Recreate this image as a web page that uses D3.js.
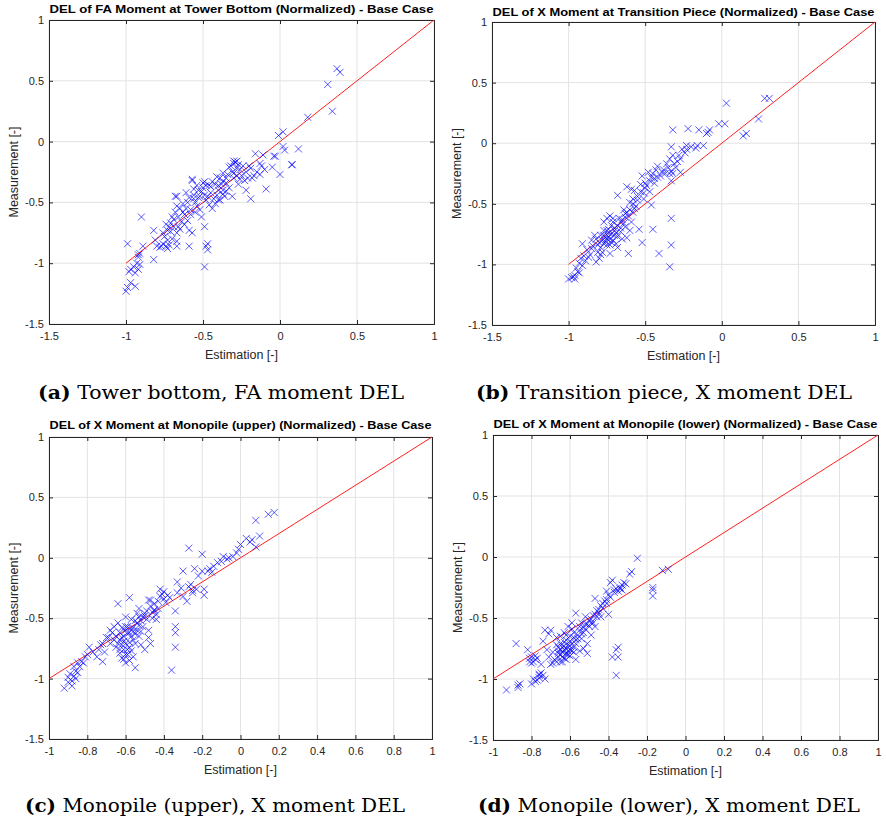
<!DOCTYPE html>
<html>
<head>
<meta charset="utf-8">
<script src="https://cdn.jsdelivr.net/npm/d3@7"></script>
<style>
    body { margin: 0; background: #fff; }
    svg { display: block; }
</style>
</head>
<body>
<script>
const pointsA = [
    [0.37, 0.60], [0.39, 0.57], [0.31, 0.47], [0.34, 0.25], [0.18, 0.20],
    [0.02, 0.08], [-0.01, 0.05], [0.02, -0.04], [0.03, -0.07], [0.12, -0.06],
    [0.08, -0.19], [0.075, -0.19], [0, -0.27], [-0.03, -0.12], [-0.04, -0.12],
    [-0.09, -0.39], [-0.16, -0.10], [-0.19, -0.47], [-0.11, -0.11], [-0.05, -0.21],
    [-0.13, -0.18], [-0.13, -0.27], [-0.22, -0.40], [-0.23, -0.32], [-0.26, -0.23],
    [-0.28, -0.16], [-0.30, -0.18], [-0.33, -0.21], [-0.30, -0.26], [-0.37, -0.26],
    [-0.41, -0.29], [-0.35, -0.34], [-0.31, -0.45], [-0.37, -0.43], [-0.39, -0.48],
    [-0.42, -0.51], [-0.45, -0.37], [-0.48, -0.36], [-0.49, -0.44], [-0.52, -0.45],
    [-0.54, -0.53], [-0.51, -0.62], [-0.49, -0.70], [-0.57, -0.32], [-0.56, -0.47],
    [-0.58, -0.56], [-0.57, -0.75], [-0.59, -0.73], [-0.59, -0.86], [-0.63, -0.51],
    [-0.61, -0.42], [-0.67, -0.45], [-0.67, -0.53], [-0.68, -0.58], [-0.69, -0.64],
    [-0.71, -0.67], [-0.73, -0.73], [-0.76, -0.75], [-0.73, -0.81], [-0.74, -0.86],
    [-0.80, -0.86], [-0.81, -0.81], [-0.82, -0.73], [-0.82, -0.97], [-0.90, -0.62],
    [-0.89, -0.86], [-0.92, -0.93], [-0.67, -0.75], [-0.67, -0.82], [-0.67, -0.86],
    [-0.68, -0.45], [-0.48, -0.86], [-0.47, -0.84], [-0.47, -0.89], [-0.49, -1.03],
    [-0.99, -0.84], [-0.97, -1.05], [-0.95, -1.03], [-0.93, -1.00], [-0.92, -1.05],
    [-0.91, -1.01], [-0.94, -1.08], [-0.99, -1.20], [-1.00, -1.23], [-0.97, -1.16],
    [-0.94, -1.19], [-0.98, -1.07], [-0.92, -0.95], [-0.91, -0.92], [-0.57, -0.31],
    [-0.70, -0.62], [-0.72, -0.70], [-0.65, -0.55], [-0.62, -0.60], [-0.60, -0.50],
    [-0.55, -0.50], [-0.53, -0.40], [-0.50, -0.38], [-0.47, -0.45], [-0.45, -0.42],
    [-0.44, -0.55], [-0.40, -0.40], [-0.38, -0.35], [-0.36, -0.45], [-0.35, -0.30],
    [-0.33, -0.38], [-0.30, -0.30], [-0.28, -0.22], [-0.27, -0.35], [-0.25, -0.28],
    [-0.22, -0.25], [-0.20, -0.20], [-0.18, -0.30], [-0.29, -0.17], [-0.27, -0.19],
    [-0.31, -0.25], [-0.42, -0.35], [-0.58, -0.60], [-0.64, -0.66], [-0.66, -0.70],
    [-0.75, -0.78], [-0.77, -0.86], [-0.73, -0.88], [-0.60, -0.65], [-0.52, -0.56],
    [-0.46, -0.36], [-0.49, -0.33], [-0.40, -0.48], [-0.37, -0.40], [-0.56, -0.44],
    [-0.74, -0.68], [-0.71, -0.74], [-0.69, -0.70], [-0.66, -0.62], [-0.63, -0.58],
    [-0.61, -0.55], [-0.59, -0.46], [-0.56, -0.39], [-0.54, -0.36], [-0.51, -0.41],
    [-0.48, -0.48], [-0.46, -0.52], [-0.43, -0.47], [-0.41, -0.44], [-0.39, -0.30],
    [-0.37, -0.33], [-0.34, -0.27], [-0.32, -0.20], [-0.30, -0.16], [-0.28, -0.28],
    [-0.26, -0.31], [-0.24, -0.20], [-0.21, -0.30], [-0.19, -0.22], [-0.17, -0.28],
    [-0.15, -0.25], [-0.12, -0.20], [-0.10, -0.23], [-0.55, -0.58], [-0.62, -0.68],
    [-0.70, -0.80], [-0.76, -0.84], [-0.78, -0.87], [-0.72, -0.85], [-0.65, -0.72],
    [-0.44, -0.33], [-0.40, -0.36], [-0.35, -0.41], [-0.50, -0.34], [-0.53, -0.46]
];

const pointsB = [
    [0.28, 0.37], [0.31, 0.37], [0.24, 0.20], [0.14, 0.06], [0.16, 0.08],
    [0.03, 0.33], [-0.02, 0.16], [0.02, 0.16], [-0.09, 0.09], [-0.10, 0.08],
    [-0.08, 0.11], [-0.15, 0.11], [-0.22, 0.12], [-0.32, 0.11], [-0.12, -0.02],
    [-0.16, -0.02], [-0.17, -0.04], [-0.23, -0.02], [-0.23, -0.05], [-0.24, -0.08],
    [-0.33, -0.03], [-0.32, -0.10], [-0.29, -0.15], [-0.27, -0.13], [-0.34, -0.13],
    [-0.33, -0.23], [-0.32, -0.25], [-0.27, -0.24], [-0.34, -0.25], [-0.33, -0.31],
    [-0.37, -0.25], [-0.42, -0.19], [-0.42, -0.28], [-0.45, -0.25], [-0.47, -0.31],
    [-0.48, -0.24], [-0.49, -0.35], [-0.51, -0.41], [-0.53, -0.34], [-0.52, -0.27],
    [-0.51, -0.46], [-0.46, -0.51], [-0.45, -0.71], [-0.33, -0.62], [-0.33, -0.84],
    [-0.34, -1.02], [-0.41, -0.91], [-0.52, -0.82], [-0.61, -0.91], [-0.54, -0.71],
    [-0.68, -0.43], [-0.62, -0.36], [-0.59, -0.38], [-0.57, -0.39], [-0.58, -0.46],
    [-0.60, -0.49], [-0.62, -0.57], [-0.63, -0.61], [-0.61, -0.60], [-0.58, -0.57],
    [-0.59, -0.65], [-0.66, -0.65], [-0.68, -0.68], [-0.71, -0.62], [-0.73, -0.60],
    [-0.75, -0.62], [-0.77, -0.65], [-0.74, -0.71], [-0.72, -0.75], [-0.70, -0.76],
    [-0.75, -0.79], [-0.77, -0.83], [-0.79, -0.86], [-0.78, -0.90], [-0.82, -0.79],
    [-0.83, -0.76], [-0.85, -0.87], [-0.88, -0.88], [-0.91, -0.83], [-0.92, -0.95],
    [-0.91, -1.01], [-0.95, -1.03], [-0.96, -1.09], [-0.98, -1.11], [-1.00, -1.12],
    [-0.96, -1.12], [-0.93, -0.99], [-0.80, -0.95], [-0.82, -0.98], [-0.73, -0.91],
    [-0.73, -0.84], [-0.65, -0.79], [-0.66, -0.73], [-0.63, -0.69], [-0.60, -0.72],
    [-0.68, -0.86], [-0.62, -0.78], [-0.70, -0.70], [-0.72, -0.68], [-0.74, -0.77],
    [-0.76, -0.81], [-0.71, -0.80], [-0.69, -0.74], [-0.67, -0.62], [-0.64, -0.55],
    [-0.56, -0.52], [-0.55, -0.44], [-0.50, -0.37], [-0.44, -0.33], [-0.40, -0.27],
    [-0.38, -0.22], [-0.36, -0.17], [-0.30, -0.20], [-0.44, -0.29], [-0.47, -0.40],
    [-0.79, -0.76], [-0.77, -0.72], [-0.81, -0.84], [-0.86, -0.92], [-0.89, -0.97],
    [-0.94, -1.06], [-0.85, -0.80], [-0.69, -0.83], [-0.64, -0.66], [-0.57, -0.54],
    [-0.78, -0.80], [-0.76, -0.78], [-0.75, -0.84], [-0.73, -0.79], [-0.72, -0.82],
    [-0.74, -0.74], [-0.77, -0.76], [-0.80, -0.82], [-0.81, -0.90], [-0.84, -0.85],
    [-0.87, -0.94], [-0.70, -0.72], [-0.68, -0.77], [-0.66, -0.70], [-0.65, -0.63],
    [-0.63, -0.58], [-0.60, -0.55], [-0.58, -0.50], [-0.55, -0.47], [-0.53, -0.40],
    [-0.50, -0.33], [-0.46, -0.28], [-0.43, -0.22], [-0.39, -0.24], [-0.35, -0.20],
    [-0.31, -0.17], [-0.28, -0.10], [-0.26, -0.05], [-0.20, -0.03], [-0.79, -0.92],
    [-0.75, -0.72], [-0.71, -0.65], [-0.93, -1.07], [-0.97, -1.10], [-0.90, -0.93]
];

const pointsC = [
    [0.176, 0.375], [0.145, 0.36], [0.08, 0.31], [0.10, 0.18], [0.08, 0.09],
    [0.06, 0.15], [0.03, 0.16], [0, 0.11], [-0.01, 0.07], [-0.04, 0.01],
    [-0.06, 0], [-0.09, 0.01], [-0.12, -0.04], [-0.14, -0.07], [-0.17, -0.11],
    [-0.20, 0.03], [-0.20, -0.11], [-0.24, -0.09], [-0.27, 0.08], [-0.30, -0.11],
    [-0.19, -0.26], [-0.19, -0.31], [-0.23, -0.26], [-0.25, -0.29], [-0.27, -0.24],
    [-0.28, -0.36], [-0.33, -0.20], [-0.33, -0.29], [-0.34, -0.44], [-0.34, -0.57],
    [-0.34, -0.62], [-0.34, -0.74], [-0.36, -0.93], [-0.38, -0.31], [-0.40, -0.28],
    [-0.42, -0.26], [-0.39, -0.37], [-0.43, -0.42], [-0.45, -0.44], [-0.47, -0.35],
    [-0.46, -0.50], [-0.48, -0.60], [-0.47, -0.71], [-0.50, -0.76], [-0.50, -0.46],
    [-0.53, -0.42], [-0.54, -0.46], [-0.58, -0.33], [-0.60, -0.49], [-0.59, -0.57],
    [-0.57, -0.65], [-0.55, -0.71], [-0.55, -0.91], [-0.56, -0.82], [-0.54, -0.60],
    [-0.53, -0.65], [-0.60, -0.71], [-0.61, -0.76], [-0.62, -0.83], [-0.63, -0.79],
    [-0.60, -0.87], [-0.64, -0.38], [-0.64, -0.54], [-0.65, -0.65], [-0.67, -0.62],
    [-0.68, -0.71], [-0.72, -0.71], [-0.72, -0.86], [-0.74, -0.76], [-0.75, -0.82],
    [-0.79, -0.74], [-0.81, -0.82], [-0.83, -0.86], [-0.84, -0.90], [-0.86, -0.94],
    [-0.87, -0.98], [-0.88, -1.02], [-0.90, -1.03], [-0.88, -1.06], [-0.92, -1.08],
    [-0.90, -0.99], [-0.85, -0.95], [-0.87, -0.90], [-0.82, -0.87], [-0.68, -0.60],
    [-0.66, -0.57], [-0.48, -0.35], [-0.45, -0.43], [-0.44, -0.51], [-0.61, -0.65],
    [-0.59, -0.76], [-0.57, -0.51], [-0.54, -0.54], [-0.51, -0.57], [-0.49, -0.51],
    [-0.60, -0.57], [-0.58, -0.62], [-0.56, -0.68], [-0.58, -0.70], [-0.61, -0.69],
    [-0.62, -0.72], [-0.59, -0.80], [-0.57, -0.77], [-0.55, -0.63], [-0.52, -0.52],
    [-0.50, -0.48], [-0.46, -0.45], [-0.43, -0.36], [-0.41, -0.30], [-0.37, -0.33],
    [-0.31, -0.25], [-0.26, -0.22], [-0.22, -0.15], [-0.16, -0.09], [-0.10, -0.03],
    [-0.07, -0.01], [-0.02, 0.04], [0.05, 0.13], [-0.63, -0.62], [-0.63, -0.68],
    [-0.65, -0.74], [-0.56, -0.58], [-0.53, -0.49], [-0.70, -0.66], [-0.77, -0.78],
    [-0.62, -0.66], [-0.60, -0.60], [-0.59, -0.63], [-0.58, -0.74], [-0.57, -0.58],
    [-0.56, -0.61], [-0.60, -0.80], [-0.61, -0.84], [-0.63, -0.76], [-0.64, -0.71],
    [-0.55, -0.52], [-0.53, -0.56], [-0.52, -0.61], [-0.51, -0.49], [-0.49, -0.44],
    [-0.47, -0.40], [-0.45, -0.38], [-0.42, -0.32], [-0.40, -0.34], [-0.44, -0.47],
    [-0.48, -0.66], [-0.52, -0.72], [-0.58, -0.85], [-0.62, -0.58], [-0.66, -0.68],
    [-0.69, -0.66], [-0.71, -0.78], [-0.73, -0.72], [-0.80, -0.80], [-0.85, -0.87],
    [-0.89, -0.96], [-0.86, -1.00], [-0.30, -0.32], [-0.25, -0.27], [-0.15, -0.12]
];

const pointsD = [
    [-0.25, -0.01], [-0.28, -0.12], [-0.29, -0.14], [-0.32, -0.21], [-0.33, -0.23],
    [-0.34, -0.25], [-0.37, -0.27], [-0.39, -0.21], [-0.41, -0.28], [-0.40, -0.47],
    [-0.43, -0.38], [-0.45, -0.43], [-0.47, -0.34], [-0.46, -0.49], [-0.48, -0.54],
    [-0.50, -0.57], [-0.51, -0.71], [-0.51, -0.79], [-0.52, -0.49], [-0.54, -0.54],
    [-0.55, -0.60], [-0.57, -0.84], [-0.58, -0.62], [-0.59, -0.71], [-0.60, -0.76],
    [-0.59, -0.54], [-0.61, -0.57], [-0.62, -0.68], [-0.63, -0.73], [-0.64, -0.82],
    [-0.65, -0.76], [-0.65, -0.71], [-0.66, -0.79], [-0.67, -0.86], [-0.69, -0.87],
    [-0.69, -0.78], [-0.70, -0.60], [-0.73, -0.60], [-0.74, -0.69], [-0.72, -0.76],
    [-0.75, -0.88], [-0.76, -0.97], [-0.77, -1.01], [-0.79, -1.00], [-0.80, -1.04],
    [-0.73, -1.00], [-0.76, -0.96], [-0.78, -0.84], [-0.80, -0.82], [-0.80, -0.87],
    [-0.82, -0.76], [-0.88, -0.71], [-0.87, -1.05], [-0.87, -1.07], [-0.93, -1.09],
    [-0.36, -0.76], [-0.35, -0.82], [-0.38, -0.82], [-0.35, -0.74], [-0.36, -0.97],
    [-0.17, -0.25], [-0.17, -0.27], [-0.17, -0.32], [-0.12, -0.11], [-0.09, -0.10],
    [-0.38, -0.19], [-0.41, -0.35], [-0.54, -0.67], [-0.49, -0.64], [-0.57, -0.46],
    [-0.65, -0.65], [-0.63, -0.62], [-0.60, -0.65], [-0.57, -0.68], [-0.53, -0.62],
    [-0.47, -0.57], [-0.44, -0.49], [-0.66, -0.82], [-0.63, -0.83], [-0.65, -0.86],
    [-0.61, -0.80], [-0.71, -0.82], [-0.62, -0.75], [-0.61, -0.72], [-0.64, -0.78],
    [-0.63, -0.70], [-0.60, -0.69], [-0.58, -0.66], [-0.56, -0.64], [-0.55, -0.57],
    [-0.52, -0.55], [-0.50, -0.52], [-0.48, -0.48], [-0.46, -0.44], [-0.44, -0.40],
    [-0.42, -0.36], [-0.40, -0.31], [-0.36, -0.26], [-0.35, -0.28], [-0.62, -0.79],
    [-0.66, -0.74], [-0.59, -0.77], [-0.77, -0.83], [-0.81, -0.86], [-0.75, -0.95],
    [-0.78, -1.02], [-0.86, -1.04], [-0.53, -0.58], [-0.49, -0.54], [-0.67, -0.72],
    [-0.63, -0.76], [-0.62, -0.80], [-0.61, -0.77], [-0.60, -0.73], [-0.64, -0.74],
    [-0.65, -0.80], [-0.66, -0.77], [-0.62, -0.84], [-0.60, -0.81], [-0.58, -0.74],
    [-0.57, -0.71], [-0.56, -0.67], [-0.54, -0.63], [-0.52, -0.59], [-0.51, -0.55],
    [-0.49, -0.51], [-0.47, -0.47], [-0.45, -0.46], [-0.43, -0.42], [-0.41, -0.38],
    [-0.39, -0.33], [-0.37, -0.29], [-0.34, -0.26], [-0.33, -0.27], [-0.31, -0.22],
    [-0.68, -0.84], [-0.70, -0.88], [-0.64, -0.86], [-0.58, -0.78], [-0.55, -0.77],
    [-0.53, -0.75], [-0.79, -0.86], [-0.78, -0.81], [-0.81, -0.83], [-0.76, -0.99],
    [-0.74, -0.97], [-0.71, -0.63], [-0.67, -0.66], [-0.62, -0.64], [-0.59, -0.59]
];

const titles = [
    "DEL of FA Moment at Tower Bottom (Normalized) - Base Case",
    "DEL of X Moment at Transition Piece (Normalized) - Base Case",
    "DEL of X Moment at Monopile (upper) (Normalized) - Base Case",
    "DEL of X Moment at Monopile (lower) (Normalized) - Base Case"
];
const captionLetters = ["(a)", "(b)", "(c)", "(d)"];
const captionTexts = [
    "Tower bottom, FA moment DEL",
    "Transition piece, X moment DEL",
    "Monopile (upper), X moment DEL",
    "Monopile (lower), X moment DEL"
];
const xTicksWide = [-1.5, -1, -0.5, 0, 0.5, 1];
const xTicksFine = [-1, -0.8, -0.6, -0.4, -0.2, 0, 0.2, 0.4, 0.6, 0.8, 1];
const yTicks = [-1.5, -1, -0.5, 0, 0.5, 1];
const refLine = [[-1, -1], [1, 1]];
const xLabel = "Estimation [-]";
const yLabel = "Measurement [-]";

const W = 886, H = 823;
const sansFont = "'Liberation Sans', Arial, sans-serif";

// plot boxes (left, right, top, bottom) + caption placement
const panels = [
    { pts: pointsA, xTicks: xTicksWide, l: 49, r: 434, t: 20, b: 324, titleY: 13, capX: 221, capY: 399, capW: 366 },
    { pts: pointsB, xTicks: xTicksWide, l: 492, r: 875, t: 22, b: 325, titleY: 16, capX: 664, capY: 399, capW: 376 },
    { pts: pointsC, xTicks: xTicksFine, l: 49, r: 432, t: 437, b: 739, titleY: 429, capX: 215, capY: 812, capW: 380 },
    { pts: pointsD, xTicks: xTicksFine, l: 493, r: 878, t: 435, b: 740, titleY: 428, capX: 669, capY: 812, capW: 382 }
];

const fmt = d => String(+d.toFixed(1));

const svg = d3.select("body").append("svg")
    .attr("width", W)
    .attr("height", H);

panels.forEach((p, i) => {
    const x = d3.scaleLinear()
        .domain(d3.extent(p.xTicks))
        .range([p.l, p.r]);
    const y = d3.scaleLinear()
        .domain(d3.extent(yTicks))
        .range([p.b, p.t]);

    const g = svg.append("g");

    // grid
    g.append("g").selectAll("line")
        .data(p.xTicks)
        .join("line")
        .attr("x1", d => x(d)).attr("x2", d => x(d))
        .attr("y1", p.t).attr("y2", p.b)
        .attr("stroke", "#e3e3e3");
    g.append("g").selectAll("line")
        .data(yTicks)
        .join("line")
        .attr("x1", p.l).attr("x2", p.r)
        .attr("y1", d => y(d)).attr("y2", d => y(d))
        .attr("stroke", "#e3e3e3");

    // axes, MATLAB style: ticks pointing inwards, box on
    const bottom = g.append("g")
        .attr("transform", "translate(0," + p.b + ")")
        .call(d3.axisBottom(x).tickValues(p.xTicks).tickFormat(fmt).tickSize(-4).tickPadding(8));
    const left = g.append("g")
        .attr("transform", "translate(" + p.l + ",0)")
        .call(d3.axisLeft(y).tickValues(yTicks).tickFormat(fmt).tickSize(-4).tickPadding(5));
    const top = g.append("g")
        .attr("transform", "translate(0," + p.t + ")")
        .call(d3.axisTop(x).tickValues(p.xTicks).tickFormat("").tickSize(-4));
    const right = g.append("g")
        .attr("transform", "translate(" + p.r + ",0)")
        .call(d3.axisRight(y).tickValues(yTicks).tickFormat("").tickSize(-4));

    [bottom, left, top, right].forEach(a => {
        a.select(".domain").attr("stroke", "#262626");
        a.selectAll(".tick line").attr("stroke", "#262626");
        a.selectAll("text")
            .attr("fill", "#262626")
            .style("font-family", sansFont)
            .style("font-size", "11px");
    });

    // red 1:1 line
    const line = d3.line()
        .x(d => x(d[0]))
        .y(d => y(d[1]));
    g.append("path")
        .datum(refLine)
        .attr("d", line)
        .attr("fill", "none")
        .attr("stroke", "#ff2020")
        .attr("stroke-width", 1);

    // x markers
    const s = 3.5;
    g.append("g").selectAll("path")
        .data(p.pts)
        .join("path")
        .attr("d", d => {
            const cx = x(d[0]), cy = y(d[1]);
            return "M" + (cx - s) + "," + (cy - s) + "L" + (cx + s) + "," + (cy + s) +
                "M" + (cx - s) + "," + (cy + s) + "L" + (cx + s) + "," + (cy - s);
        })
        .attr("stroke", "#0000ff")
        .attr("stroke-opacity", 0.65)
        .attr("stroke-width", 1)
        .attr("fill", "none");

    // title
    g.append("text")
        .attr("x", (p.l + p.r) / 2)
        .attr("y", p.titleY)
        .attr("text-anchor", "middle")
        .attr("textLength", p.r - p.l - 1)
        .attr("lengthAdjust", "spacingAndGlyphs")
        .style("font-family", sansFont)
        .style("font-size", "11.5px")
        .style("font-weight", "bold")
        .attr("fill", "#000")
        .text(titles[i]);

    // axis labels
    g.append("text")
        .attr("x", (p.l + p.r) / 2)
        .attr("y", p.b + 35)
        .attr("text-anchor", "middle")
        .style("font-family", sansFont)
        .style("font-size", "12.5px")
        .attr("fill", "#262626")
        .text(xLabel);
    g.append("text")
        .attr("transform", "translate(" + (p.l - 31) + "," + ((p.t + p.b) / 2) + ") rotate(-90)")
        .attr("text-anchor", "middle")
        .style("font-family", sansFont)
        .style("font-size", "12.5px")
        .attr("fill", "#262626")
        .text(yLabel);

    // caption under the subfigure
    const cap = svg.append("text")
        .attr("x", p.capX)
        .attr("y", p.capY)
        .attr("text-anchor", "middle")
        .attr("textLength", p.capW)
        .attr("lengthAdjust", "spacingAndGlyphs")
        .style("font-family", "'DejaVu Serif', serif")
        .style("font-size", "18.5px")
        .attr("fill", "#000");
    cap.append("tspan").style("font-weight", "bold").text(captionLetters[i]);
    cap.append("tspan").text(" " + captionTexts[i]);
});
</script>
</body>
</html>
